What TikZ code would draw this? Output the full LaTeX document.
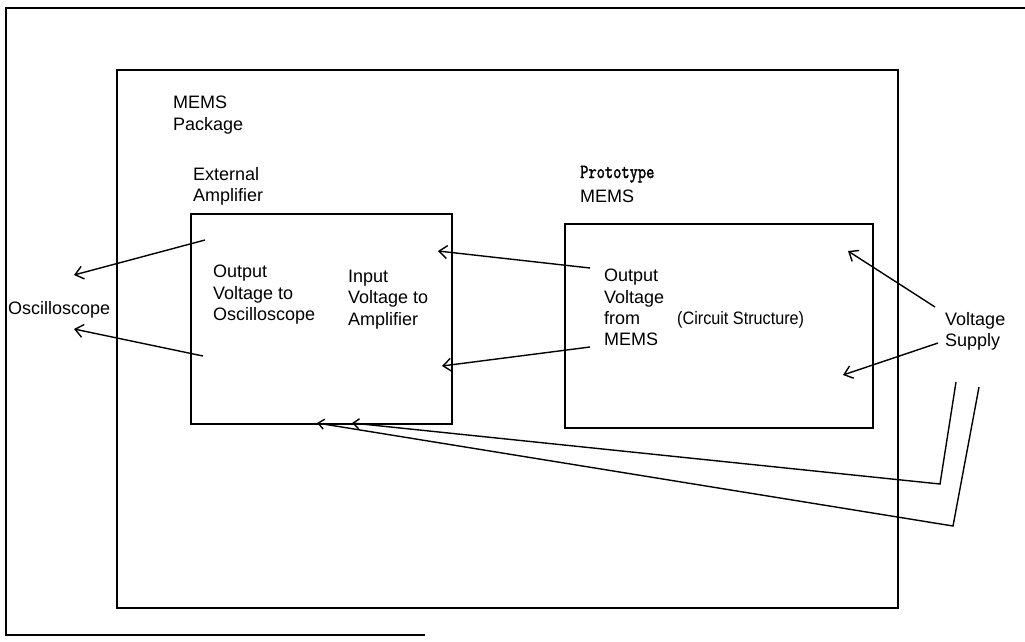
\documentclass[tikz,border=0pt]{standalone}
\usepackage{fontspec}
\setmainfont{Liberation Sans}
\newfontfamily\protofont[FakeBold=2]{Latin Modern Mono}
\usetikzlibrary{arrows.meta}
\begin{document}
\begin{tikzpicture}[x=1pt,y=-1pt,
  frame/.style={line width=1.6pt},
  conn/.style={line width=1.4pt,-{Straight Barb[length=8pt,width=13pt,line width=1.4pt]}},
  wire/.style={line width=1.4pt,-{Straight Barb[length=6pt,width=10pt,line width=1.4pt]}},
  lbl/.style={anchor=north west,inner sep=0pt,align=left,font=\fontsize{18}{21.3}\selectfont},
  one/.style={anchor=base west,inner sep=0pt,font=\fontsize{18}{21.3}\selectfont}]
\useasboundingbox (0,0) rectangle (1025,641);
% outer frame
\draw[frame] (1025,8) -- (6,8) -- (6,635) -- (425,635);
% boxes
\draw[frame] (117,70) rectangle (898,608);
\draw[frame] (191,214) rectangle (452,424);
\draw[frame] (565,224) rectangle (873,428);
% labels
\node[lbl] (pkg) at (173,96) {MEMS\\Package};
\node[lbl] (ext) at (193,167) {External\\Amplifier};
\node[lbl] (outosc) at (213,265) {Output\\Voltage to\\Oscilloscope};
\node[lbl] (inamp) at (348,270) {Input\\Voltage to\\Amplifier};
\node[one,font=\protofont\fontsize{20}{22}\selectfont] (proto) at (580,178) {\scalebox{0.8}[1]{Prototype}};
\node[one] (protomems) at (580,202) {MEMS};
\node[lbl] (outmems) at (604,269) {Output\\Voltage\\from\\MEMS};
\node[one] (circ) at (677,324) {\scalebox{0.9}[1]{(Circuit Structure)}};
\node[one] (osc) at (8,314) {Oscilloscope};
\node[lbl] (vs) at (945,312) {Voltage\\Supply};
% arrow end points
\coordinate (o1s) at (205,240); \coordinate (o1e) at (74,275);
\coordinate (o2s) at (203,356); \coordinate (o2e) at (74,329);
\coordinate (m1s) at (590,268); \coordinate (m1e) at (438,251);
\coordinate (m2s) at (590,347); \coordinate (m2e) at (442,366);
\coordinate (v1s) at (935,307); \coordinate (v1e) at (848,251);
\coordinate (v2s) at (938,343); \coordinate (v2e) at (843,375);
\coordinate (w1a) at (956,382); \coordinate (w1b) at (940,484); \coordinate (w1e) at (352,423);
\coordinate (w2a) at (979,387); \coordinate (w2b) at (953,526); \coordinate (w2e) at (317,423);
% connectors
\draw[conn] (o1s) -- (o1e);
\draw[conn] (o2s) -- (o2e);
\draw[conn] (m1s) -- (m1e);
\draw[conn] (m2s) -- (m2e);
\draw[conn] (v1s) -- (v1e);
\draw[conn] (v2s) -- (v2e);
\draw[wire] (w1a) -- (w1b) -- (w1e);
\draw[wire] (w2a) -- (w2b) -- (w2e);
\end{tikzpicture}
\end{document}
